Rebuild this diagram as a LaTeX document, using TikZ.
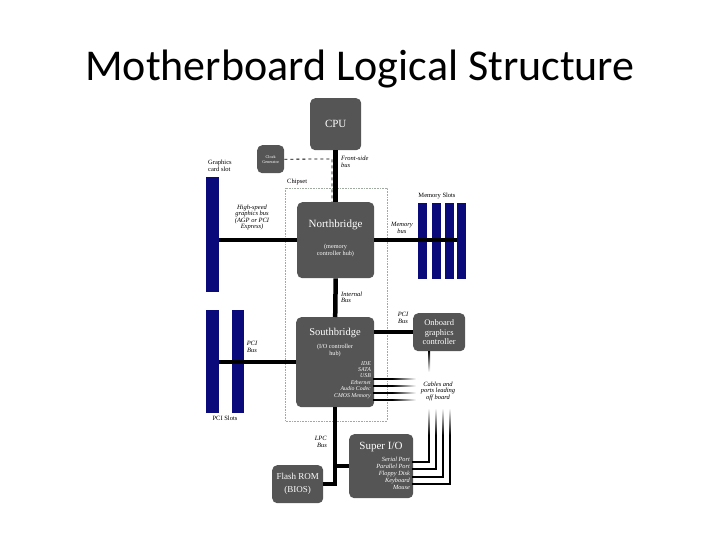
\documentclass[tikz,border=0pt]{standalone}
\usepackage{fontspec}
\setmainfont{Liberation Serif}
\newfontfamily\titlefont{Carlito}
\definecolor{boxgray}{RGB}{85,85,85}
\definecolor{slotblue}{RGB}{10,10,122}
\definecolor{chipcol}{RGB}{160,170,160}
\newcommand{\fs}[1]{\fontsize{#1}{#1}\selectfont}
\begin{document}
\begin{tikzpicture}[x=1pt,y=-1pt,
  box/.style={fill=boxgray, rounded corners=5pt, draw=none, inner sep=0pt, anchor=north west},
  slot/.style={fill=slotblue, draw=none, inner sep=0pt, anchor=north west},
  bus/.style={line width=4.5pt},
  lbl/.style={inner sep=0pt, align=center, font=\fs{6.5}\itshape},
  ulbl/.style={inner sep=0pt, align=left, font=\fs{6.5}},
  wt/.style={inner sep=0pt, text=white, align=center},
  fadeh/.style={left color=black, right color=white, draw=none},
  fadev/.style={top color=black, bottom color=white, draw=none},
  fadeu/.style={bottom color=black, top color=white, draw=none}]
\useasboundingbox (0,0) rectangle (720,540);
% title
\node[inner sep=0pt, anchor=base, font=\titlefont\fontsize{44}{44}\selectfont] (title) at (360,81) {Motherboard Logical Structure};

% chipset dotted box
\draw[chipcol, densely dotted, line width=0.6pt] (285,188) rectangle (387,421);
\node[ulbl, anchor=west] (chiplbl) at (287,182) {Chipset};

% boxes
\node[box, minimum width=51pt, minimum height=52pt] (cpu) at (310,98) {};
\node[box, minimum width=27pt, minimum height=28pt] (clk) at (257,145) {};
\node[box, minimum width=77pt, minimum height=76pt] (nb) at (297,202) {};
\node[box, minimum width=78pt, minimum height=90pt] (sb) at (296,317) {};
\node[box, minimum width=52pt, minimum height=38pt] (ogc) at (413,313) {};
\node[box, minimum width=64pt, minimum height=64pt] (sio) at (349,434) {};
\node[box, minimum width=51pt, minimum height=38pt] (rom) at (272,465) {};

% slots
\node[slot, minimum width=13pt, minimum height=115pt] (gslot) at (206,177) {};
\node[slot, minimum width=13pt, minimum height=103pt] (pci1) at (206,310) {};
\node[slot, minimum width=12pt, minimum height=103pt] (pci2) at (232,310) {};
\node[slot, minimum width=9pt, minimum height=76pt] (mem1) at (418,203) {};
\node[slot, minimum width=9pt, minimum height=76pt] (mem2) at (432,203) {};
\node[slot, minimum width=9pt, minimum height=76pt] (mem3) at (445,203) {};
\node[slot, minimum width=9pt, minimum height=76pt] (mem4) at (457,203) {};

% buses
\draw[line width=5pt] (cpu.south) -- (nb.north);
\coordinate (clkturn) at (332,159);
\coordinate (clkend) at (332,202);
\draw[dashed, line width=0.8pt] (clk.east) -- (clkturn) -- (clkend);
\draw[bus] (gslot.east |- nb.west) -- (nb.west);
\draw[bus] (nb.east) -- (mem4.west |- nb.east);
\draw[bus] (nb.south) -- (sb.north);
\draw[bus] (pci1.east |- sb.west) -- (sb.west);
\draw[bus] (sb.east |- ogc.west) -- (ogc.west);
\draw[bus] (sb.south) -- (sb.south |- rom.east) -- (rom.east);
\draw[bus] (sb.south |- sio.west) -- (sio.west);

% cables from southbridge
\foreach \yy in {379,386,393,400}{
  \fill[black] (373,\yy-0.9) rectangle (392,\yy+0.9);
  \fill[fadeh] (392,\yy-0.9) rectangle (416,\yy+0.9);
}
% from onboard graphics
\fill[fadev] (428.2,351) rectangle (430,372);
% from super I/O
\foreach \yy/\xx in {462/429,469/436,477/443,484/450}{
  \fill[black] (412,\yy-0.9) rectangle (\xx+0.9,\yy+0.9);
  \fill[black] (\xx-0.9,\yy+0.9) rectangle (\xx+0.9,435);
  \fill[fadeu] (\xx-0.9,435) rectangle (\xx+0.9,408);
}

% box texts
\node[wt, font=\fs{11}] (cputxt) at (cpu.center) {CPU};
\node[wt, font=\fs{4.2}, align=center] (clktxt) at (clk.center) {Clock\\[1pt]Generator};
\node[wt, font=\fs{11}] (nbtxt) at (335.5,225) {Northbridge};
\node[wt, font=\fs{6.2}, align=center] (nbsub) at (335.5,250.5) {(memory\\[1.5pt]controller hub)};
\node[wt, font=\fs{10.5}] (sbtxt) at (335,333) {Southbridge};
\node[wt, font=\fs{6.2}, align=center] (sbsub) at (335,350.5) {(I/O controller\\[1.5pt]hub)};
\node[wt, font=\fs{5.8}\itshape, align=right, anchor=north east] (sblist) at (371,361) {IDE\\[0.6pt]SATA\\[0.6pt]USB\\[0.6pt]Ethernet\\[0.6pt]Audio Codec\\[0.6pt]CMOS Memory};
\node[wt, font=\fs{8.5}, align=center] (ogctxt) at (ogc.center) {Onboard\\[1pt]graphics\\[1pt]controller};
\node[wt, font=\fs{11}] (siotxt) at (381,447) {Super I/O};
\node[wt, font=\fs{6.3}\itshape, align=right, anchor=north east] (siolist) at (410,457) {Serial Port\\[0.6pt]Parallel Port\\[0.6pt]Floppy Disk\\[0.6pt]Keyboard\\[0.6pt]Mouse};
\node[wt, font=\fs{9}, align=center] (romtxt) at (rom.center) {Flash ROM\\[4pt](BIOS)};

% labels
\node[ulbl, anchor=west] (glbl) at (208,166) {Graphics\\card slot};
\node[ulbl, anchor=center] (memlbl) at (437,196) {Memory Slots};
\node[ulbl, anchor=center] (pcilbl) at (225,418) {PCI Slots};
\node[lbl, align=left, anchor=west] (fsblbl) at (341,162) {Front-side\\bus};
\node[lbl] (agplbl) at (252,217.5) {High-speed\\graphics bus\\(AGP or PCI\\Express)};
\node[lbl] (memblbl) at (402,228) {Memory\\bus};
\node[lbl, align=left, anchor=west] (intlbl) at (341,297.5) {Internal\\Bus};
\node[lbl] (pcib2) at (403,318) {PCI\\Bus};
\node[lbl] (pcib1) at (252,347) {PCI\\Bus};
\node[lbl, align=right, anchor=east] (lpclbl) at (327,442) {LPC\\Bus};
\node[lbl, fill=white, inner sep=1pt] (cablbl) at (438,391) {Cables and\\ports leading\\off board};
\end{tikzpicture}
\end{document}
